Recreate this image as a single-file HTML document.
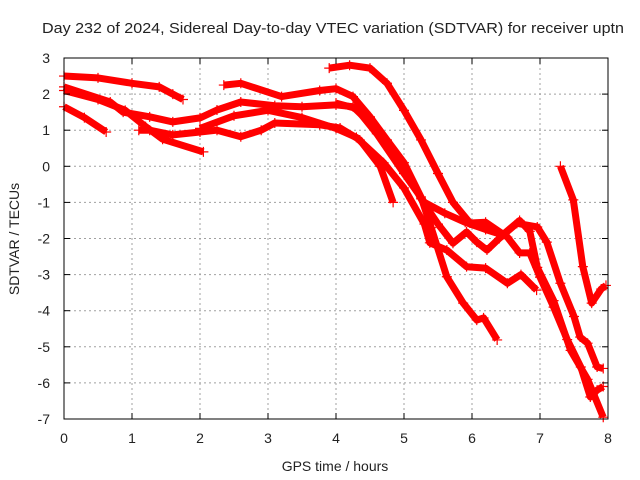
<!DOCTYPE html>
<html><head><meta charset="utf-8"><style>
body{margin:0;background:#fff}
svg{display:block;font-family:"Liberation Sans",sans-serif}
</style></head><body>
<svg id="chart" width="640" height="480" viewBox="0 0 640 480">
<rect width="640" height="480" fill="#fff"/>
<text x="42" y="33" font-size="15" textLength="582" lengthAdjust="spacingAndGlyphs" fill="#222">Day 232 of 2024, Sidereal Day-to-day VTEC variation (SDTVAR) for receiver uptn</text>
<g id="grid"></g>
<g id="series"></g>
<rect x="64" y="58" width="544" height="361" fill="none" stroke="#000" stroke-width="1"/>
<g id="ticks"></g>
<text x="335" y="471" font-size="14" text-anchor="middle" fill="#222">GPS time / hours</text>
<text transform="translate(19,239) rotate(-90)" font-size="14" text-anchor="middle" fill="#222">SDTVAR / TECUs</text>
</svg>
<script>
const xTicks=[0,1,2,3,4,5,6,7,8];
const yTicks=[3,2,1,0,-1,-2,-3,-4,-5,-6,-7];
const s1=[[0,2.5],[0.5,2.45],[1,2.3],[1.4,2.2],[1.6,2.0],[1.75,1.85]];
const s2=[[0,2.2],[0.68,1.78],[0.87,1.5],[1.26,1.37],[1.6,1.23],[2,1.34],[2.25,1.56],[2.6,1.78],[3.1,1.68],[3.5,1.65],[4,1.7],[4.25,1.65],[4.5,1.2],[5,0],[5.25,-0.9],[5.5,-1.6],[5.72,-2.13],[5.92,-1.82],[6.07,-2.1],[6.22,-2.32],[6.4,-2.0],[6.66,-1.58],[6.96,-1.68],[7.1,-2.1],[7.3,-3.24],[7.5,-4.16],[7.59,-4.73],[7.7,-4.9],[7.84,-5.56],[7.93,-5.6]];
const s3=[[0,2.1],[0.5,1.85],[0.9,1.55],[1.2,1.1],[1.45,0.75],[2.05,0.4]];
const s4=[[0,1.65],[0.3,1.35],[0.62,0.95]];
const s5=[[1.1,1.0],[1.26,1.0],[1.6,0.87],[2,0.95],[2.25,1.0],[2.6,0.82],[2.9,1.0],[3.1,1.2],[3.76,1.15],[4.06,1.06],[4.35,0.73],[4.65,0],[4.84,-1.0]];
const s6=[[2.35,2.25],[2.6,2.3],[3.2,1.93],[3.76,2.1],[4.0,2.15],[4.25,1.93],[4.5,1.37],[4.75,0.73],[5.0,0.1],[5.25,-0.85],[5.4,-1.7],[5.63,-3.06],[5.87,-3.79],[6.07,-4.26],[6.17,-4.2],[6.37,-4.81]];
const s7=[[3.9,2.72],[4.2,2.8],[4.5,2.72],[4.75,2.3],[5,1.55],[5.25,0.73],[5.5,-0.2],[5.72,-1.0],[5.97,-1.57],[6.2,-1.55],[6.52,-1.96],[6.7,-2.4],[6.85,-2.4],[7.0,-3.07],[7.2,-3.9],[7.4,-4.8],[7.6,-5.56],[7.74,-6.39],[7.84,-6.2],[7.93,-6.1]];
const s8=[[2.0,1.05],[2.5,1.4],[3.0,1.55],[3.5,1.35],[4.0,1.05],[4.3,0.8],[4.7,0.1],[5.0,-0.6],[5.3,-1.6],[5.38,-2.12],[5.63,-2.32],[5.92,-2.78],[6.2,-2.82],[6.52,-3.24],[6.72,-3.0],[6.95,-3.43]];
const s9=[[4.0,1.75],[4.3,1.6],[4.6,0.9],[5.0,-0.2],[5.3,-1.0],[5.6,-1.3],[5.9,-1.55],[6.2,-1.75],[6.45,-1.9],[6.7,-1.5],[6.85,-1.8],[6.96,-2.8],[7.2,-3.72],[7.45,-5.1],[7.7,-5.9],[7.93,-6.95]];
const s10=[[7.3,0.0],[7.49,-0.93],[7.63,-2.78],[7.76,-3.79],[7.9,-3.4],[7.97,-3.3]];
const allSeries=[s1,s2,s3,s4,s5,s6,s7,s8,s9,s10];
const NS="http://www.w3.org/2000/svg";
const X0=64,X1=608,Y0=58,Y1=419;
const xs=h=>X0+(h-0)/(8-0)*(X1-X0);
const ys=v=>Y0+(3-v)/(3-(-7))*(Y1-Y0);
const grid=document.getElementById('grid'),ticks=document.getElementById('ticks'),ser=document.getElementById('series');
function mk(t,a,p){const e=document.createElementNS(NS,t);for(const k in a)e.setAttribute(k,a[k]);p.appendChild(e);return e;}
xTicks.forEach(t=>{const x=xs(t);
 if(t>0&&t<8){const g=mk('line',{x1:x,x2:x,y1:Y0,y2:Y1,stroke:'#a0a0a0','stroke-dasharray':'2,3'},grid);
 
 }
 mk('line',{x1:x,x2:x,y1:Y1,y2:Y1-6,stroke:'#000'},ticks);
 mk('line',{x1:x,x2:x,y1:Y0,y2:Y0+6,stroke:'#000'},ticks);
 const l=mk('text',{x:x,y:Y1+24,'font-size':14,'text-anchor':'middle',fill:'#222'},ticks);l.textContent=t;
 
 });
yTicks.forEach(t=>{const y=ys(t);
 if(t<3&&t>-7){const g=mk('line',{x1:X0,x2:X1,y1:y,y2:y,stroke:'#a0a0a0','stroke-dasharray':'2,3'},grid);
 
 }
 mk('line',{x1:X0,x2:X0+6,y1:y,y2:y,stroke:'#000'},ticks);
 mk('line',{x1:X1,x2:X1-6,y1:y,y2:y,stroke:'#000'},ticks);
 const l=mk('text',{x:X0-14,y:y+5,'font-size':14,'text-anchor':'end',fill:'#222'},ticks);l.textContent=t;
 
 });
allSeries.forEach((s,i)=>{
 const pts=s.map(p=>xs(p[0]).toFixed(1)+','+ys(p[1]).toFixed(1)).join(' ');
 const pl=mk('polyline',{points:pts,fill:'none',stroke:'#ff0000','stroke-width':7,'stroke-linejoin':'round','stroke-linecap':'butt'},ser);
 
 
 s.forEach(p=>{const x=xs(p[0]),y=ys(p[1]);
  mk('path',{d:`M${x-5},${y}h10M${x},${y-5}v10`,stroke:'#ff0000','stroke-width':1.2},ser);});
});
</script>
</body></html>
